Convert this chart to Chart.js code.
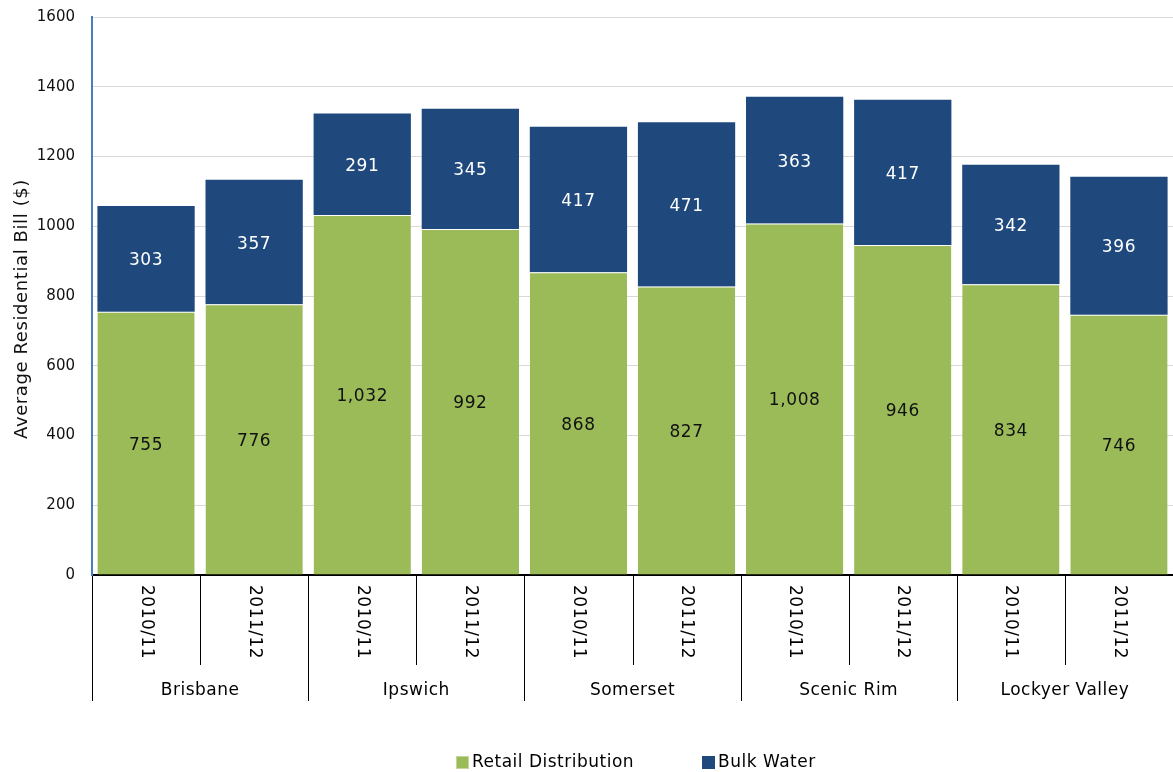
<!DOCTYPE html>
<html>
<head>
<meta charset="utf-8">
<script src="https://cdn.jsdelivr.net/npm/chart.js@4/dist/chart.umd.min.js"></script>
<style>
  body { margin: 0; background: #fff; }
  canvas { display: block; }
</style>
</head>
<body>
<canvas id="billChart" width="1173" height="772"></canvas>
<script>
// Council areas and the two financial years shown for each
const regions = ["Brisbane", "Ipswich", "Somerset", "Scenic Rim", "Lockyer Valley"];
const years = ["2010/11", "2011/12"];

// Bill components ($), one value per region/year pair
const retailDistribution = [755, 776, 1032, 992, 868, 827, 1008, 946, 834, 746];
const bulkWater = [303, 357, 291, 345, 417, 471, 363, 417, 342, 396];

// Y axis ticks
const yTicks = [0, 200, 400, 600, 800, 1000, 1200, 1400, 1600];
const yTitle = "Average Residential Bill ($)";

const GREEN = "#9bbb59";
const BLUE = "#1f497d";
const FONT = "DejaVu Sans";

const labels = [];
regions.forEach(function(r) {
    years.forEach(function(y) { labels.push(y); });
});

// Values printed in the middle of each segment
const segmentLabels = {
    id: "segmentLabels",
    afterDatasetsDraw: function(chart) {
        const ctx = chart.ctx;
        ctx.save();
        ctx.font = "17px '" + FONT + "'";
        ctx.letterSpacing = "0.6px";
        ctx.textAlign = "center";
        ctx.textBaseline = "middle";
        chart.data.datasets.forEach(function(ds, di) {
            const meta = chart.getDatasetMeta(di);
            ctx.fillStyle = di === 0 ? "#111" : "#fff";
            meta.data.forEach(function(bar, i) {
                const y = (bar.y + bar.base) / 2;
                ctx.fillText(ds.data[i].toLocaleString("en-US"), bar.x, y + 2);
            });
        });
        ctx.restore();
    }
};

// Two-level category axis: rotated years, region names, divider lines,
// plus the y axis title and the legend
const groupedAxis = {
    id: "groupedAxis",
    afterDraw: function(chart) {
        const ctx = chart.ctx;
        const xs = chart.scales.x;
        const area = chart.chartArea;
        const n = labels.length;
        const step = (area.right - area.left) / n;
        const top = area.bottom + 1;

        ctx.save();
        ctx.strokeStyle = "#000";
        ctx.lineWidth = 1;
        for (let k = 0; k < n; k++) {
            const x = Math.round(area.left + k * step) + 0.5;
            const isGroupEdge = k % years.length === 0;
            ctx.beginPath();
            ctx.moveTo(x, top);
            ctx.lineTo(x, isGroupEdge ? 701 : 665);
            ctx.stroke();
        }

        ctx.fillStyle = "#000";
        ctx.font = "17px '" + FONT + "'";
        ctx.letterSpacing = "0.5px";
        labels.forEach(function(lab, i) {
            const x = xs.getPixelForValue(i);
            ctx.save();
            ctx.translate(x, 585);
            ctx.rotate(Math.PI / 2);
            ctx.textAlign = "left";
            ctx.textBaseline = "middle";
            ctx.fillText(lab, 0, 0);
            ctx.restore();
        });

        ctx.textAlign = "center";
        ctx.textBaseline = "middle";
        regions.forEach(function(r, g) {
            const a = xs.getPixelForValue(g * years.length);
            const b = xs.getPixelForValue(g * years.length + years.length - 1);
            ctx.fillText(r, (a + b) / 2, 691);
        });

        // y axis title
        ctx.save();
        ctx.font = "18px '" + FONT + "'";
        ctx.letterSpacing = "0.6px";
        ctx.fillStyle = "#111";
        ctx.translate(22, 309);
        ctx.rotate(-Math.PI / 2);
        ctx.fillText(yTitle, 0, 0);
        ctx.restore();

        // legend
        ctx.textAlign = "left";
        const legendY = 762;
        const items = [
            { text: chart.data.datasets[0].label, color: GREEN, edge: "#c3d69b", x: 456 },
            { text: chart.data.datasets[1].label, color: BLUE, edge: "#1f497d", x: 702 }
        ];
        items.forEach(function(it) {
            ctx.fillStyle = it.color;
            ctx.fillRect(it.x, legendY - 6, 13, 13);
            ctx.strokeStyle = it.edge;
            ctx.strokeRect(it.x + 0.5, legendY - 5.5, 12, 12);
            ctx.fillStyle = "#000";
            ctx.fillText(it.text, it.x + 16, legendY + 1);
        });
        ctx.restore();
    }
};

const ctx = document.getElementById("billChart").getContext("2d");
new Chart(ctx, {
    type: "bar",
    data: {
        labels: labels,
        datasets: [
            {
                label: "Retail Distribution",
                data: retailDistribution,
                backgroundColor: GREEN,
                borderColor: "#ffffff",
                borderWidth: { top: 1, left: 0, right: 0, bottom: 0 },
                borderSkipped: "start"
            },
            {
                label: "Bulk Water",
                data: bulkWater,
                backgroundColor: BLUE,
                borderColor: "#4f6f9c",
                borderWidth: 0
            }
        ]
    },
    options: {
        responsive: false,
        devicePixelRatio: 1,
        animation: false,
        layout: { padding: { top: 17, right: 0, bottom: 197, left: 0 } },
        datasets: { bar: { barPercentage: 0.9, categoryPercentage: 1.0 } },
        plugins: {
            legend: { display: false },
            tooltip: { enabled: false }
        },
        scales: {
            x: {
                stacked: true,
                ticks: { display: false },
                grid: { display: false },
                border: { display: true, color: "#000", width: 2 },
                afterFit: function(scale) {
                    scale.height = 0;
                    scale.paddingLeft = 0;
                    scale.paddingRight = 0;
                }
            },
            y: {
                stacked: true,
                min: yTicks[0],
                max: yTicks[yTicks.length - 1],
                afterBuildTicks: function(scale) {
                    scale.ticks = yTicks.map(function(v) { return { value: v }; });
                },
                ticks: {
                    color: "#111",
                    padding: 17,
                    font: { family: FONT, size: 15 },
                    callback: function(v) { return String(v); }
                },
                grid: { color: "#d9d9d9", lineWidth: 1, drawTicks: false },
                border: { display: true, color: "#4a7ebb", width: 2 },
                afterFit: function(scale) {
                    scale.width = 92;
                    scale.paddingTop = 0;
                    scale.paddingBottom = 0;
                }
            }
        }
    },
    plugins: [segmentLabels, groupedAxis]
});
</script>
</body>
</html>
